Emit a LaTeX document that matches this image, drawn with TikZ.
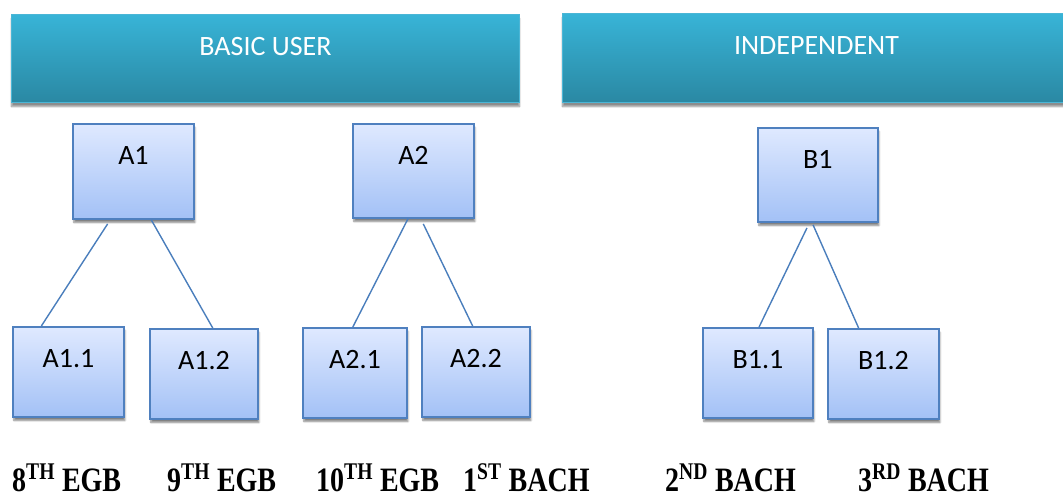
\documentclass[tikz,border=0pt]{standalone}
\usepackage{fontspec}
\usetikzlibrary{calc,shadows.blur}
\newfontfamily\calib{Carlito}
\newfontfamily\tnr{Liberation Serif}

\definecolor{boxtop}{HTML}{DFE9FF}
\definecolor{boxbot}{HTML}{A3C1F6}
\definecolor{boxline}{HTML}{4F80BF}
\definecolor{bantop}{HTML}{38B4D7}
\definecolor{banbot}{HTML}{2A88A3}
\definecolor{banline}{HTML}{4BB6D6}
\definecolor{connline}{HTML}{4A7EBC}

\tikzset{
  box/.style={draw=boxline, line width=1.9pt, top color=boxtop, bottom color=boxbot,
    inner sep=0pt, anchor=north west, text height=41pt,
    font=\calib\fontsize{28}{30}\selectfont,
    blur shadow={shadow xshift=1pt, shadow yshift=-3.5pt, shadow opacity=50, shadow blur steps=6}},
  banner/.style={draw=banline, line width=1pt, top color=bantop, bottom color=banbot,
    inner sep=0pt, anchor=north west, text height=41pt, text=white,
    font=\calib\fontsize{28}{30}\selectfont,
    blur shadow={shadow xshift=0pt, shadow yshift=-4pt, shadow opacity=45, shadow blur steps=6}},
  conn/.style={draw=connline, line width=1.4pt},
  grade/.style={anchor=base west, inner sep=0pt, font=\tnr\bfseries\fontsize{28}{30}\selectfont},
}

\begin{document}
\begin{tikzpicture}[x=1pt, y=-1pt]
  \useasboundingbox (0,0) rectangle (1063,497);

  % level headers
  \node[banner, minimum width=508pt, text depth=47pt] (basic) at (11,14) {BASIC USER};
  \node[banner, minimum width=508pt, text depth=48pt] (indep) at (562,13) {INDEPENDENT};

  % level boxes
  \node[box, minimum width=121pt, text depth=54pt] (A1) at (72,123) {A1};
  \node[box, minimum width=121pt, text depth=53pt] (A2) at (352,123) {A2};
  \node[box, minimum width=120pt, text depth=53pt] (B1) at (757,127) {B1};

  % sub-level boxes
  \node[box, minimum width=111pt, text depth=49pt] (A11) at (12,326) {A1.1};
  \node[box, minimum width=108pt, text depth=49pt] (A12) at (149,328) {A1.2};
  \node[box, minimum width=104pt, text depth=49pt] (A21) at (302,327) {A2.1};
  \node[box, minimum width=108pt, text depth=49pt] (A22) at (421,326) {A2.2};
  \node[box, minimum width=110pt, text depth=49pt] (B11) at (702,327) {B1.1};
  \node[box, minimum width=111pt, text depth=49pt] (B12) at (827,328) {B1.2};

  % connectors
  \draw[conn] ($(A1.south west)!0.29!(A1.south east)+(0,4)$) -- ($(A11.north west)!0.26!(A11.north east)$);
  \draw[conn] ($(A1.south west)!0.645!(A1.south east)$) -- ($(A12.north west)!0.58!(A12.north east)$);
  \draw[conn] ($(A2.south west)!0.455!(A2.south east)$) -- ($(A21.north west)!0.48!(A21.north east)$);
  \draw[conn] ($(A2.south west)!0.58!(A2.south east)+(0,5)$) -- ($(A22.north west)!0.47!(A22.north east)$);
  \draw[conn] ($(B1.south west)!0.41!(B1.south east)+(0,5)$) -- ($(B11.north west)!0.51!(B11.north east)$);
  \draw[conn] ($(B1.south west)!0.46!(B1.south east)+(0,2)$) -- ($(B12.north west)!0.28!(B12.north east)$);

  % grade labels
  \node[grade] (g8)  at (12,491)  {\scalebox{1}[1.22]{8\textsuperscript{TH} EGB}};
  \node[grade] (g9)  at (167,491) {\scalebox{1}[1.22]{9\textsuperscript{TH} EGB}};
  \node[grade] (g10) at (316,491) {\scalebox{1}[1.22]{10\textsuperscript{TH} EGB}};
  \node[grade] (b1)  at (463,491) {\scalebox{1}[1.22]{1\textsuperscript{ST} BACH}};
  \node[grade] (b2)  at (665,491) {\scalebox{1}[1.22]{2\textsuperscript{ND} BACH}};
  \node[grade] (b3)  at (858,491) {\scalebox{1}[1.22]{3\textsuperscript{RD} BACH}};
\end{tikzpicture}
\end{document}
